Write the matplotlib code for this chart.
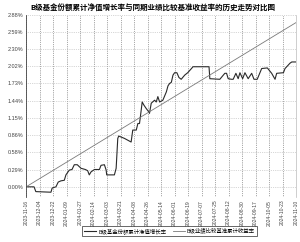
import matplotlib
matplotlib.use('Agg')
import matplotlib.pyplot as plt
import numpy as np

plt.rcParams['font.family'] = ['Noto Sans CJK SC', 'DejaVu Sans']

### B级份额净值增长率与业绩比较基准走势对比

TITLE = 'B级基金份额累计净值增长率与同期业绩比较基准收益率的历史走势对比图'
LEGEND = ['B级基金份额累计净值增长率', 'B级业绩比较基准累计收益率']

date_labels = ['2023-11-16', '2023-12-04', '2023-12-22', '2024-01-09', '2024-01-27',
               '2024-02-14', '2024-03-03', '2024-03-21', '2024-04-08', '2024-04-26',
               '2024-05-14', '2024-06-01', '2024-06-19', '2024-07-07', '2024-07-25',
               '2024-08-12', '2024-08-30', '2024-09-17', '2024-10-05', '2024-10-23',
               '2024-11-10']

# positions along the date axis (in units of tick intervals) and values in %
nav_x = [0, 0.59, 0.72, 1.84, 1.93, 2.21, 2.38, 2.58, 2.83, 2.95, 3.20, 3.40, 3.57,
         3.79, 4.07, 4.39, 4.56, 4.68, 4.81, 5.06, 5.43, 5.55, 5.80, 5.93, 5.97,
         6.54, 6.67, 6.79, 6.86, 7.29, 7.78, 7.90, 8.16, 8.28, 8.40, 8.48, 8.60,
         8.72, 8.90, 9.07, 9.14, 9.27, 9.52, 9.64, 9.76, 9.89, 10.13, 10.39, 10.51,
         10.63, 10.76, 10.88, 11.0, 11.17, 11.32, 11.49, 11.6, 11.75, 11.97, 12.25,
         12.36, 13.55, 13.61, 14.35, 14.72, 14.85, 14.97, 15.22, 15.34, 15.54, 15.71,
         15.84, 16.04, 16.21, 16.45, 16.71, 16.88, 17.12, 17.45, 17.87, 18.19, 18.44,
         18.56, 19.06, 19.18, 19.55, 19.68, 19.93, 20.0]
nav_y = [0.00, 0.00, -0.08, -0.09, -0.02, 0.00, 0.08, 0.10, 0.11, 0.20, 0.28, 0.29, 0.37,
         0.37, 0.31, 0.29, 0.27, 0.20, 0.25, 0.29, 0.29, 0.36, 0.37, 0.28, 0.20,
         0.20, 0.31, 0.81, 0.85, 0.81, 0.75, 0.95, 0.95, 1.06, 1.06, 1.20, 1.42,
         1.37, 1.31, 1.26, 1.23, 1.40, 1.45, 1.42, 1.51, 1.42, 1.45, 1.59, 1.69,
         1.73, 1.75, 1.87, 1.91, 1.91, 1.83, 1.80, 1.83, 1.87, 1.91, 1.98,
         2.01, 2.01, 1.81, 1.80, 1.90, 1.90, 1.81, 1.80, 1.80, 1.90, 1.81,
         1.91, 1.81, 1.91, 1.81, 1.90, 1.80, 1.80, 1.98, 1.99, 1.90, 1.80,
         1.90, 1.91, 1.98, 2.07, 2.09, 2.09, 2.09]

bench_x = [0, 20]
bench_y = [0.00, 2.75]

y_ticks = [0.00, 0.29, 0.58, 0.86, 1.15, 1.44, 1.73, 2.02, 2.30, 2.59, 2.88]

fig = plt.figure(figsize=(3.0, 2.42), dpi=100)
ax = fig.add_axes([0.087, 0.186, 0.9, 0.753])

ax.plot(nav_x, nav_y, color='#2a2a2a', lw=0.8, label=LEGEND[0])
ax.plot(bench_x, bench_y, color='#7a7a7a', lw=0.6, label=LEGEND[1])

ax.set_xlim(0, 20)
ax.set_ylim(-0.17, 2.88)
ax.set_xticks(range(len(date_labels)))
ax.set_xticklabels(date_labels, rotation=90, fontsize=3.6, color='#444',
                   family='Liberation Sans')
ax.set_yticks(y_ticks)
ax.set_yticklabels(['%.2f%%' % v for v in y_ticks], fontsize=4, color='#444',
                   family='Liberation Sans')
ax.tick_params(length=0, pad=2)

ax.grid(axis='x', color='#555555', ls=':', lw=0.5)
ax.grid(axis='y', color='#b0b0b0', ls=':', lw=0.5)
for s in ['top', 'bottom']:
    ax.spines[s].set_visible(False)
ax.spines['left'].set_color('#444')
ax.spines['left'].set_linewidth(0.6)
ax.spines['right'].set_color('#bbb')
ax.spines['right'].set_linewidth(0.5)

fig.text(0.508, 0.972, TITLE, ha='center', va='center', fontsize=5.45, fontweight='bold')

leg = fig.legend(loc='center', bbox_to_anchor=(0.565, 0.046), ncol=2, fontsize=3.9,
                 frameon=True, fancybox=False, handlelength=2.2, handletextpad=0.4,
                 columnspacing=1.2, borderpad=0.4)
leg.get_frame().set_edgecolor('#222')
leg.get_frame().set_linewidth(0.6)

fig.savefig('out.png', dpi=100)
